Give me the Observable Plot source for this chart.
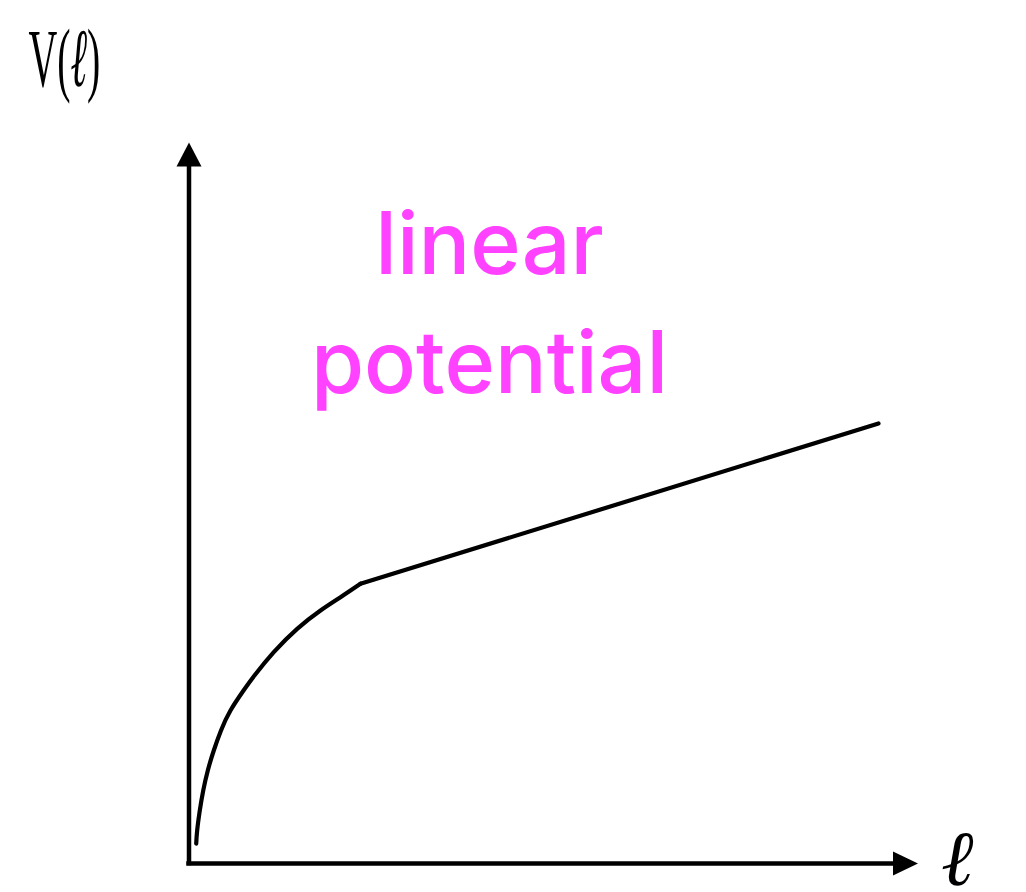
<!DOCTYPE html>
<html><head><meta charset="utf-8">
<script src="https://cdn.jsdelivr.net/npm/d3@7"></script>
<script src="https://cdn.jsdelivr.net/npm/@observablehq/plot@0.6"></script>
<style>html,body{margin:0;padding:0;background:#fff;} #chart svg{display:block}</style>
</head><body><div id="chart"></div>
<script>
// Short-distance (curved) part of V(ℓ)
const curveX = [0.99, 1.12, 1.48, 1.95, 2.58, 3.40, 4.39, 5.69, 7.48, 8.98, 11.63, 14.84, 18.04, 20.78, 23.52];
const curveY = [2.77, 4.58, 7.35, 10.12, 12.90, 15.67, 18.45, 21.22, 23.99, 26.07, 29.31, 32.55, 35.09, 36.93, 38.79];
// Long-distance linear part
const linearX = [23.52, 94.58];
const linearY = [38.79, 61.03];
const axisMax = 100;
const labelLines = ["linear", "potential"];
const yAxisLabel = "V(ℓ)";
const xAxisLabel = "ℓ";

const curveData = curveX.map((x, i) => ({x, y: curveY[i]}));
const linearData = linearX.map((x, i) => ({x, y: linearY[i]}));

const upArrow = {draw(ctx) { ctx.moveTo(0, 0); ctx.lineTo(12.5, 24); ctx.lineTo(-12.5, 24); ctx.closePath(); }};
const rightArrow = {draw(ctx) { ctx.moveTo(0, 0); ctx.lineTo(-25, -12); ctx.lineTo(-25, 12); ctx.closePath(); }};

const chart = Plot.plot({
  width: 1026,
  height: 892,
  marginLeft: 188.5,
  marginRight: 1026 - 917.5,
  marginTop: 142,
  marginBottom: 892 - 863,
  x: {domain: [0, axisMax], axis: null},
  y: {domain: [0, axisMax], axis: null},
  style: {background: "#fff", overflow: "visible"},
  marks: [
    Plot.ruleY([0], {x1: 0, x2: axisMax - 3, stroke: "black", strokeWidth: 4.5, strokeLinecap: "square"}),
    Plot.ruleX([0], {y1: 0, y2: axisMax - 3, stroke: "black", strokeWidth: 4.5, strokeLinecap: "square"}),
    Plot.dot([{x: 0, y: axisMax}], {x: "x", y: "y", symbol: upArrow, r: 5, fill: "black", stroke: null}),
    Plot.dot([{x: axisMax, y: 0}], {x: "x", y: "y", symbol: rightArrow, r: 5, fill: "black", stroke: null}),
    Plot.line(curveData, {x: "x", y: "y", curve: "natural", stroke: "black", strokeWidth: 4.2}),
    Plot.line(linearData, {x: "x", y: "y", stroke: "black", strokeWidth: 4.2}),
    Plot.text(labelLines, {
      x: 41.22, y: (d, i) => [81.83, 65.19][i], text: d => d,
      lineAnchor: "bottom", textAnchor: "middle",
      fill: "#ff42ff", fontSize: 86, fontWeight: 500, fontFamily: "Inter", letterSpacing: "2.6px"
    }),
    Plot.text([yAxisLabel], {
      x: -22.02, y: 107.9, text: d => d, lineAnchor: "bottom", textAnchor: "start",
      fill: "black", fontSize: 83, fontFamily: "Liberation Serif"
    }),
    Plot.text([xAxisLabel], {
      x: 105.4, y: -3.0, text: d => d, lineAnchor: "bottom", textAnchor: "middle",
      fill: "black", fontSize: 78, fontFamily: "DejaVu Serif", fontStyle: "italic"
    })
  ]
});

// Condense the V(ℓ) label horizontally, with an italic ℓ
d3.select(chart).selectAll("text").filter(function() { return this.textContent === yAxisLabel; })
  .each(function() {
    const t = d3.select(this);
    t.html('V(<tspan font-family="DejaVu Serif" font-style="italic">ℓ</tspan>)');
    t.attr("transform", (t.attr("transform") || "") + " scale(0.48,1)");
  });

document.getElementById("chart").append(chart);
</script>
</body></html>
